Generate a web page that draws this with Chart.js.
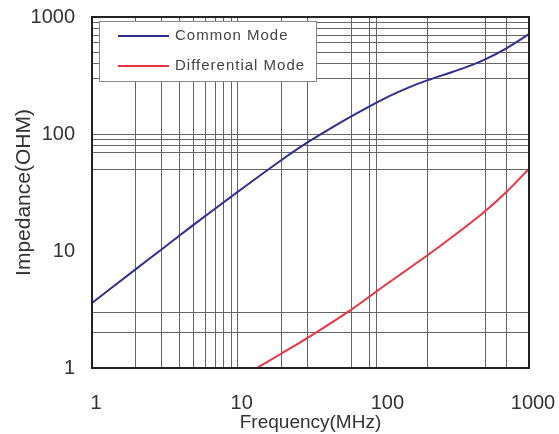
<!DOCTYPE html>
<html lang="en">
<head>
    <meta charset="UTF-8">
    <title>Impedance vs Frequency</title>
    <script src="https://cdn.jsdelivr.net/npm/chart.js"></script>
    <style>
        body {
            margin: 0;
            background-color: #ffffff;
        }

        .chart-box {
            position: relative;
            width: 559px;
            height: 434px;
        }
    </style>
</head>
<body>
    <div class="chart-box">
        <canvas id="impedanceChart"></canvas>
    </div>

    <script>
        // Common mode curve (MHz, Ohm)
        const cmFreq = [1, 2, 3, 5, 10, 20, 30, 50, 70, 100, 150, 200, 300, 400, 500, 700, 1000];
        const cmImp = [3.6, 7.0, 10.3, 16.8, 32, 60, 84.5, 124, 157, 199, 250, 287, 340, 386, 434, 540, 713];

        // Differential mode curve
        const dmFreq = [13.5, 20, 30, 60, 100, 200, 300, 500, 700, 1000];
        const dmImp = [1.0, 1.33, 1.8, 3.14, 4.97, 9.15, 13.3, 21.9, 31.9, 50.4];

        // labelled ticks and the (irregular) grid lines of the original sheet
        const xLabels = [1, 10, 100, 1000];
        const yLabels = [1, 10, 100, 1000];
        const xGrid = [2, 3, 4, 5, 6, 7, 8, 9, 10, 20, 30, 60, 80, 90, 200, 500, 700];
        const yGrid = [2, 3, 50, 70, 80, 90, 100, 300, 400, 500, 600, 700, 800, 900];

        const seriesNames = ['Common Mode', 'Differential Mode'];
        const seriesColors = ['#2f2f8f', '#ee3340'];

        const toPoints = (xs, ys) => xs.map((x, i) => ({ x: x, y: ys[i] }));

        function tickList(labels, grid) {
            return Array.from(new Set([...labels, ...grid])).sort((a, b) => a - b);
        }

        const gridColor = (list) => (ctx) =>
            list.includes(ctx.tick && ctx.tick.value) ? '#666' : 'rgba(0,0,0,0)';

        // legend box + frame drawn inside the plot area
        const framePlugin = {
            id: 'frame',
            afterDraw(chart) {
                const { ctx, chartArea: a } = chart;
                ctx.save();
                ctx.strokeStyle = '#222';
                ctx.lineWidth = 2;
                ctx.strokeRect(a.left, a.top, a.right - a.left, a.bottom - a.top);

                const bx = a.left + 7, by = a.top + 4, bw = 217, bh = 60;
                ctx.fillStyle = '#ffffff';
                ctx.fillRect(bx, by, bw, bh);
                ctx.strokeStyle = '#888';
                ctx.lineWidth = 1;
                ctx.strokeRect(bx + 0.5, by + 0.5, bw, bh);

                ctx.font = '15px "Liberation Sans", Arial, sans-serif';
                ctx.letterSpacing = '1px';
                ctx.textBaseline = 'middle';
                seriesNames.forEach((name, i) => {
                    const y = by + 15 + i * 30;
                    ctx.strokeStyle = seriesColors[i];
                    ctx.lineWidth = 2;
                    ctx.beginPath();
                    ctx.moveTo(bx + 19, y);
                    ctx.lineTo(bx + 70, y);
                    ctx.stroke();
                    ctx.fillStyle = '#444';
                    ctx.fillText(name, bx + 76, y);
                });
                ctx.restore();
            }
        };

        new Chart(document.getElementById('impedanceChart'), {
            type: 'line',
            data: {
                datasets: [
                    {
                        label: seriesNames[0],
                        data: toPoints(cmFreq, cmImp),
                        borderColor: seriesColors[0],
                        borderWidth: 2,
                        pointRadius: 0,
                        tension: 0.3,
                        fill: false
                    },
                    {
                        label: seriesNames[1],
                        data: toPoints(dmFreq, dmImp),
                        borderColor: seriesColors[1],
                        borderWidth: 2,
                        pointRadius: 0,
                        tension: 0.3,
                        fill: false
                    }
                ]
            },
            options: {
                responsive: true,
                maintainAspectRatio: false,
                animation: false,
                layout: { padding: { top: 17, right: 30, left: 0, bottom: 0 } },
                plugins: {
                    legend: { display: false },
                    tooltip: { enabled: false }
                },
                scales: {
                    x: {
                        type: 'logarithmic',
                        min: 1,
                        max: 1000,
                        afterBuildTicks: (s) => { s.ticks = tickList(xLabels, xGrid).map(v => ({ value: v })); },
                        afterFit: (s) => {
                            s.height = 66;
                            s.paddingLeft = 0;
                            s.paddingRight = 0;
                        },
                        ticks: {
                            autoSkip: false,
                            maxRotation: 0,
                            padding: 23,
                            labelOffset: 4,
                            color: '#333',
                            font: { family: '"Liberation Sans", Arial, sans-serif', size: 20 },
                            callback: (v) => xLabels.includes(v) ? String(v) : ''
                        },
                        grid: { color: gridColor(xGrid), lineWidth: 1, drawTicks: false },
                        border: { display: false },
                        title: {
                            display: true,
                            text: 'Frequency(MHz)',
                            color: '#333',
                            padding: { top: 0, bottom: 0 },
                            font: { family: '"Liberation Sans", Arial, sans-serif', size: 19 }
                        }
                    },
                    y: {
                        type: 'logarithmic',
                        min: 1,
                        max: 1000,
                        afterBuildTicks: (s) => { s.ticks = tickList(yLabels, yGrid).map(v => ({ value: v })); },
                        afterFit: (s) => {
                            s.width = 92;
                            s.paddingTop = 0;
                            s.paddingBottom = 0;
                        },
                        ticks: {
                            autoSkip: false,
                            padding: 17,
                            color: '#333',
                            font: { family: '"Liberation Sans", Arial, sans-serif', size: 20 },
                            callback: (v) => yLabels.includes(v) ? String(v) : ''
                        },
                        grid: { color: gridColor(yGrid), lineWidth: 1, drawTicks: false },
                        border: { display: false },
                        title: {
                            display: true,
                            text: 'Impedance(OHM)',
                            color: '#333',
                            padding: { top: 12, bottom: 0 },
                            font: { family: '"Liberation Sans", Arial, sans-serif', size: 21 }
                        }
                    }
                }
            },
            plugins: [framePlugin]
        });
    </script>
</body>
</html>
